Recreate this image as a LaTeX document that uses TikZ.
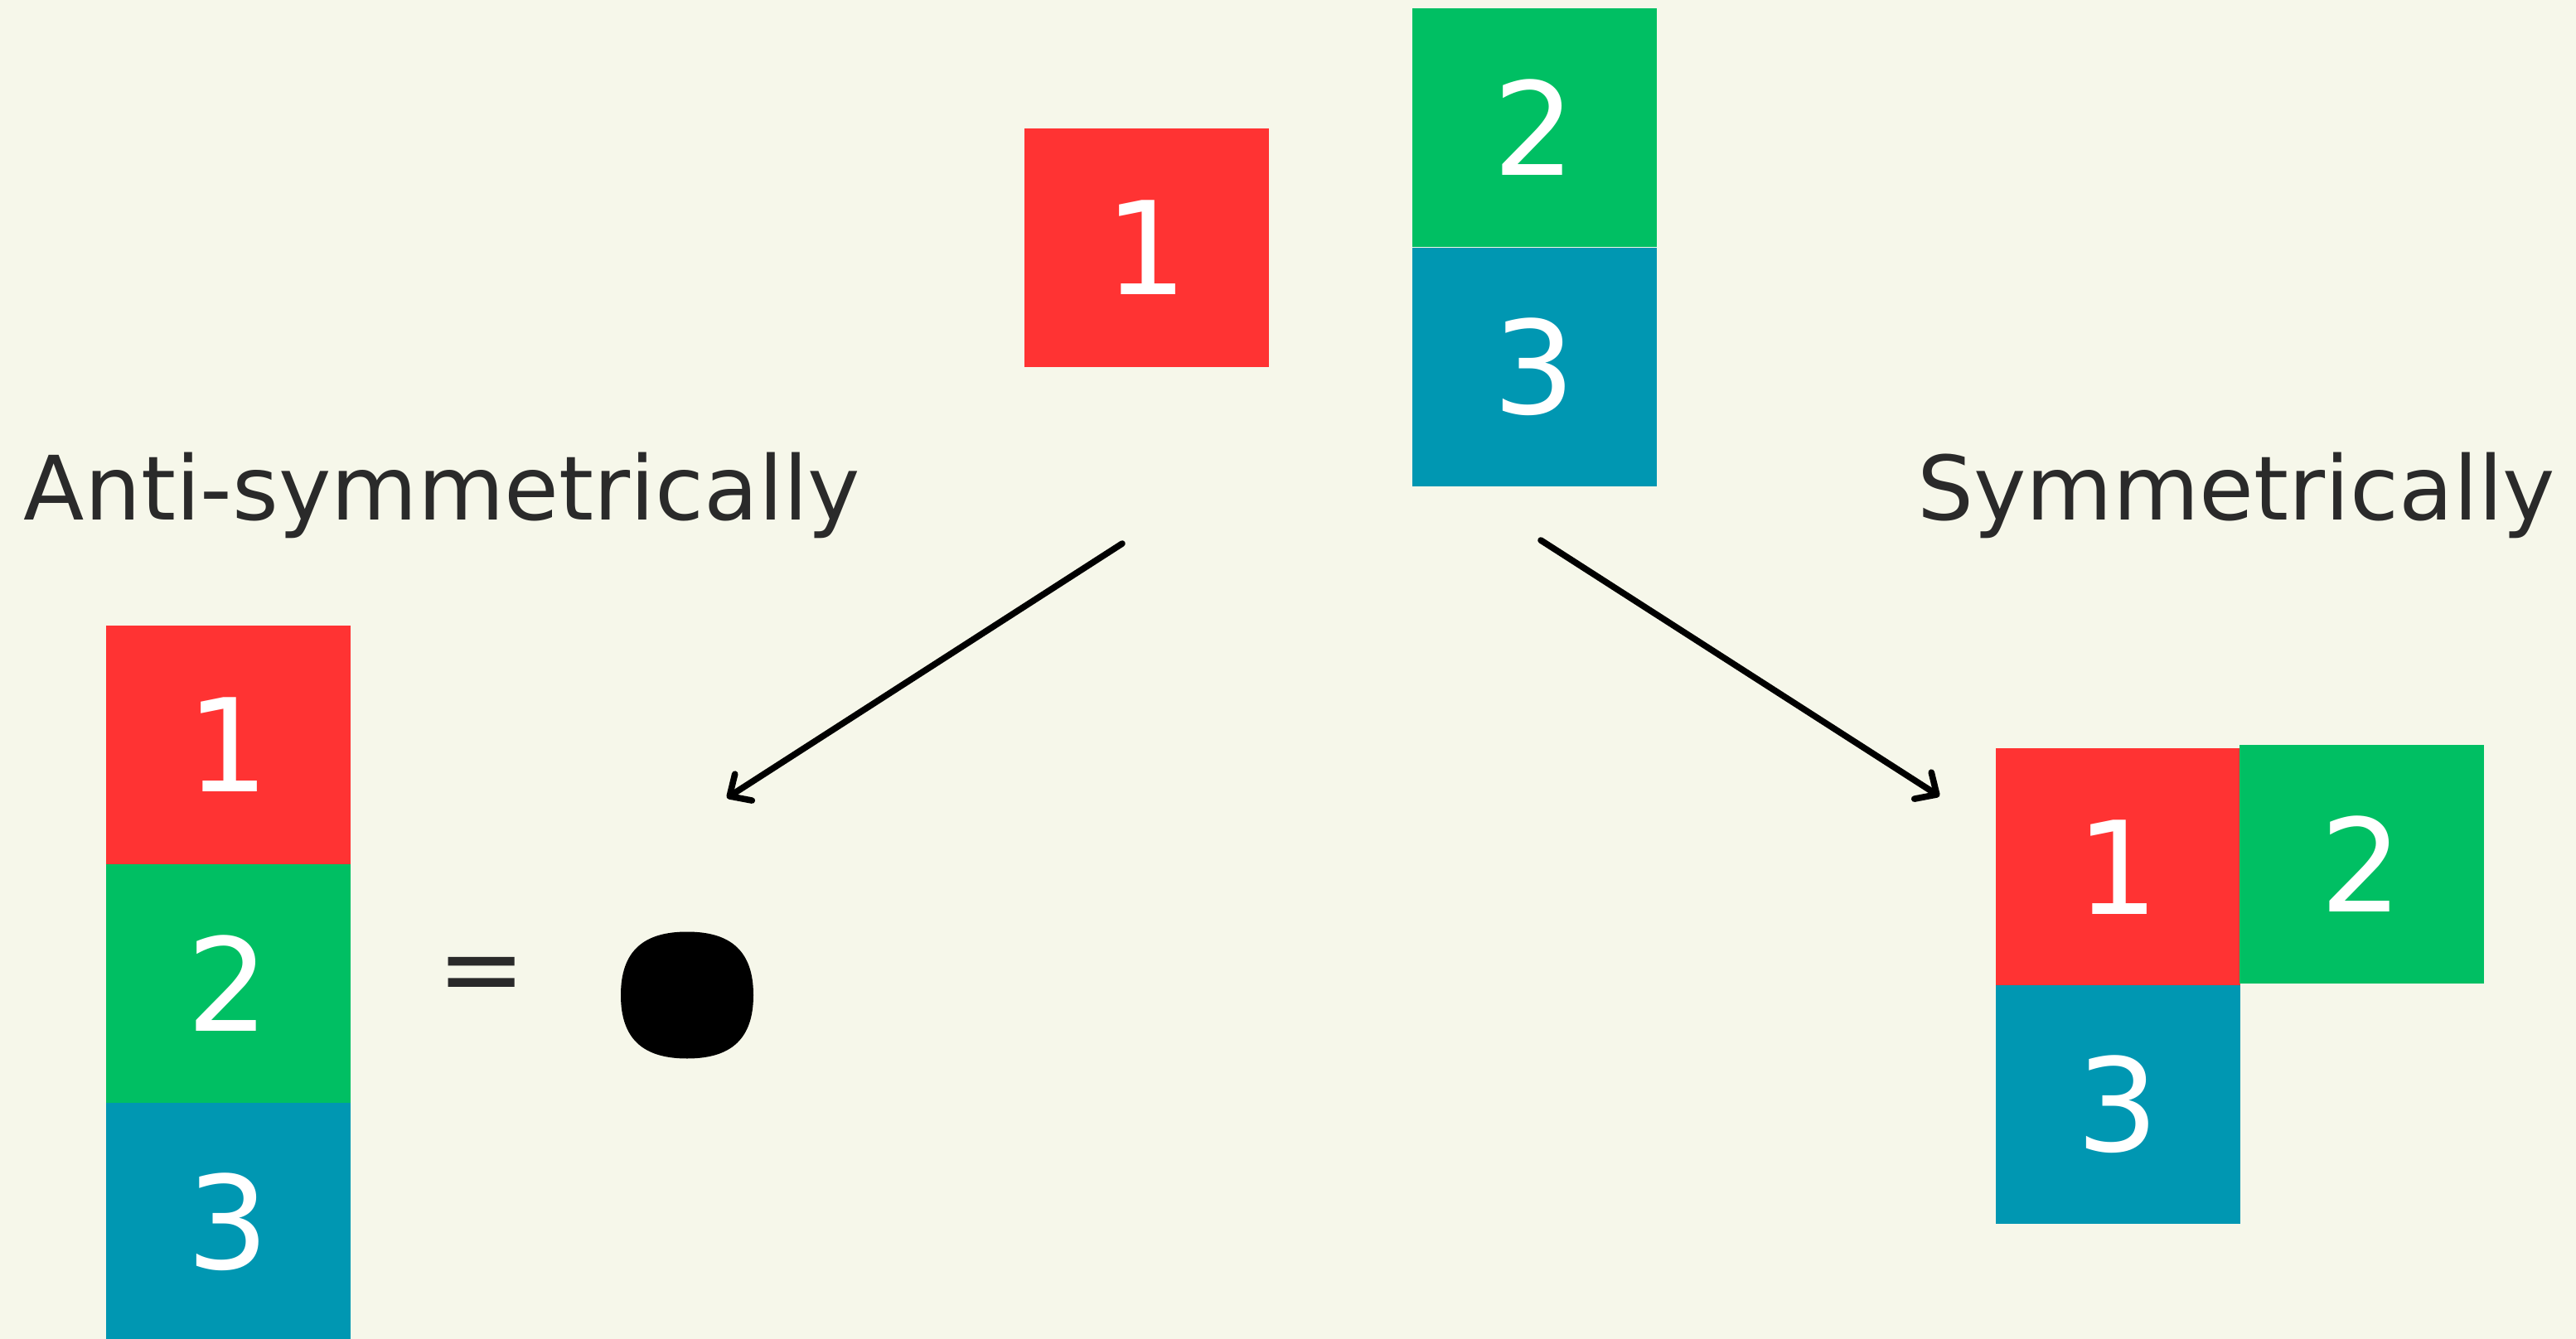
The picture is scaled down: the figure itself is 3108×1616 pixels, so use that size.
\documentclass[tikz,border=0pt]{standalone}
\usepackage{fontspec}
\setmainfont{DejaVu Sans}
\usetikzlibrary{arrows.meta}
\definecolor{bg}{HTML}{F6F7EA}
\definecolor{cred}{HTML}{FF3333}
\definecolor{cgreen}{HTML}{00BF63}
\definecolor{cblue}{HTML}{0097B2}
\definecolor{ink}{HTML}{2A2A2A}
\tikzset{
  sq/.style={minimum width=73.75pt, minimum height=72pt, inner sep=0pt, outer sep=0pt,
    text=white, font=\fontsize{39}{39}\selectfont},
  redsq/.style={sq, fill=cred},
  greensq/.style={sq, fill=cgreen},
  bluesq/.style={sq, fill=cblue},
  lbl/.style={inner sep=0pt, text=ink, font=\fontsize{26.8}{27}\selectfont},
  arr/.style={line width=1.9pt, line cap=round, -{Straight Barb[length=5pt,width=9.5pt,round]}},
}
\begin{document}
\begin{tikzpicture}[x=0.25pt,y=-0.25pt]
\useasboundingbox (0,0) rectangle (3108,1616);
\fill[bg] (0,0) rectangle (3108,1616);
% top
\node[redsq] (t1) at (1383,299) {1};
\node[greensq] (t2) at (1851,154) {2};
\node[bluesq] (t3) at (1851,443) {3};
% labels
\node[lbl, anchor=base west] (la) at (28,627) {Anti-symmetrically};
\node[lbl, anchor=base east] (ls) at (3084,627) {Symmetrically};
% left column
\node[redsq] (a1) at (275,899) {1};
\node[greensq] (a2) at (275,1187) {2};
\node[bluesq] (a3) at (275,1475) {3};
\node[inner sep=0pt, text=ink, font=\fontsize{32}{32}\selectfont] (eq) at (581,1184) {=};
\coordinate (dot) at (829,1201);
\fill[black, shift={(dot)}]
  (80,0) .. controls (80,-52) and (54,-76.5) .. (0,-76.5)
         .. controls (-54,-76.5) and (-80,-52) .. (-80,0)
         .. controls (-80,52) and (-54,76.5) .. (0,76.5)
         .. controls (54,76.5) and (80,52) .. (80,0) -- cycle;
% right cluster
\node[redsq] (s1) at (2555,1047) {1};
\node[greensq] (s2) at (2849,1043) {2};
\node[bluesq] (s3) at (2555,1333) {3};
% arrows
\coordinate (la0) at (1354,656);
\coordinate (la1) at (877,963);
\coordinate (ra0) at (1859,652);
\coordinate (ra1) at (2340,961);
\draw[arr] (la0) -- (la1);
\draw[arr] (ra0) -- (ra1);
\end{tikzpicture}
\end{document}
